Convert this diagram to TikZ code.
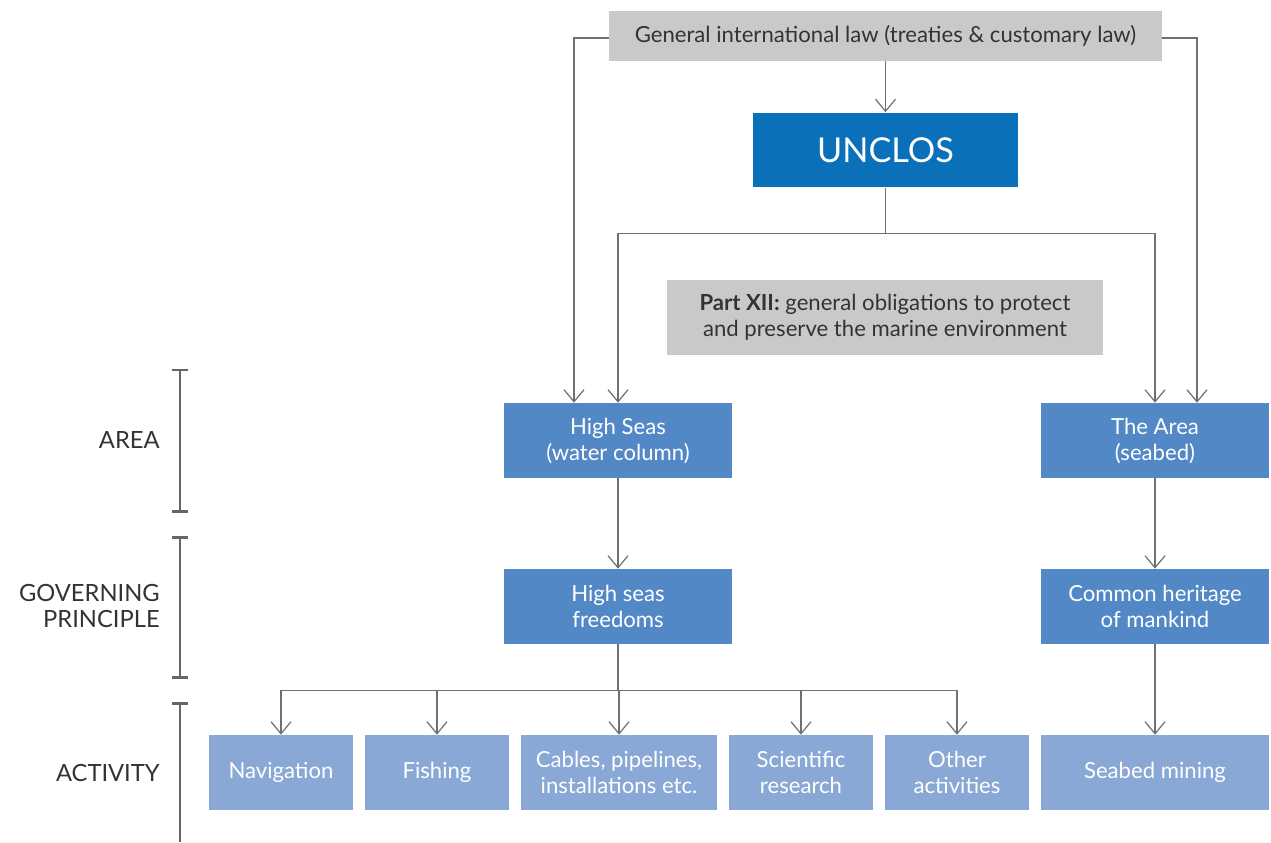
\documentclass[tikz,border=0pt]{standalone}
\usepackage{fontspec}
\setmainfont{Lato}
\usetikzlibrary{arrows.meta}
\definecolor{boxgray}{HTML}{C8C9CB}
\definecolor{unblue}{HTML}{0B70BA}
\definecolor{midblue}{HTML}{5388C7}
\definecolor{lightblue}{HTML}{89A8D6}
\definecolor{linegray}{HTML}{707070}
\definecolor{textgray}{HTML}{333333}
\tikzset{
  box/.style={inner sep=0pt, minimum height=1.5cm, align=center,
    font=\fontsize{12.6}{14.8}\selectfont},
  graybox/.style={box, fill=boxgray, text=textgray},
  areabox/.style={box, fill=midblue, text=white, minimum width=4.56cm},
  actbox/.style={box, fill=lightblue, text=white, minimum width=2.88cm},
  link/.style={draw=linegray, line width=0.7pt, -{Straight Barb[length=2.4mm, width=4mm]}},
  bracket/.style={draw=linegray!90!black, line width=1.7pt},
  rowlabel/.style={anchor=east, align=right, text=textgray, inner sep=0pt,
    font=\fontsize{13.5}{15}\selectfont}
}
\begin{document}
\begin{tikzpicture}[x=0.02cm, y=-0.02cm]
  \useasboundingbox (0,0) rectangle (1271,842);
  % top of the tree
  \node[graybox, minimum width=11.06cm, minimum height=1cm] (gil) at (885.5,36)
    {General international law (treaties \& customary law)};
  \node[box, fill=unblue, text=white, minimum width=5.3cm,
    font=\fontsize{19.5}{22}\selectfont] (unclos) at (885.5,150) {UNCLOS};
  \node[graybox, minimum width=8.72cm] (part) at (885,317.5)
    {\textbf{Part XII:} general obligations to protect\\and preserve the marine environment};
  % areas and principles
  \node[areabox] (hs) at (618,440.5) {High Seas\\(water column)};
  \node[areabox] (area) at (1155,440.5) {The Area\\(seabed)};
  \node[areabox] (hsf) at (618,606.5) {High seas\\freedoms};
  \node[areabox] (chm) at (1155,606.5) {Common heritage\\of mankind};
  % activities
  \node[actbox] (nav) at (281,772.5) {Navigation};
  \node[actbox] (fish) at (437,772.5) {Fishing};
  \node[actbox, minimum width=3.92cm] (cab) at (619,772.5) {Cables, pipelines,\\installations etc.};
  \node[actbox] (sci) at (801,772.5) {Scientific\\research};
  \node[actbox] (oth) at (957,772.5) {Other\\activities};
  \node[actbox, minimum width=4.56cm] (mine) at (1155,772.5) {Seabed mining};
  % connectors
  \draw[link] (gil.south) -- (unclos.north);
  \draw[link] ([yshift=-0.04cm]gil.west) -| ([xshift=-0.88cm]hs.north);
  \draw[link] ([yshift=-0.04cm]gil.east) -| ([xshift=0.84cm]area.north);
  \draw[link] (unclos.south) -- ++(0,46) -| (hs.north);
  \draw[link] (unclos.south) -- ++(0,46) -| (area.north);
  \draw[link] (hs.south) -- (hsf.north);
  \draw[link] (area.south) -- (chm.north);
  \draw[link] (chm.south) -- (mine.north);
  \foreach \n in {nav,fish,cab,sci,oth}
    \draw[link] (hsf.south) -- ++(0,46) -| (\n.north);
  % row labels
  \node[rowlabel] (lbarea) at (160,440) {AREA};
  \node[rowlabel] (lbgov) at (160,606) {GOVERNING\\PRINCIPLE};
  \node[rowlabel] (lbact) at (160,773) {ACTIVITY};
  \draw[bracket] (172,370) -- (188,370) (180,370) -- (180,511) (172,511) -- (188,511);
  \draw[bracket] (172,537) -- (188,537) (180,537) -- (180,677) (172,677) -- (188,677);
  \draw[bracket] (172,703) -- (188,703) (180,703) -- (180,842);
\end{tikzpicture}
\end{document}
